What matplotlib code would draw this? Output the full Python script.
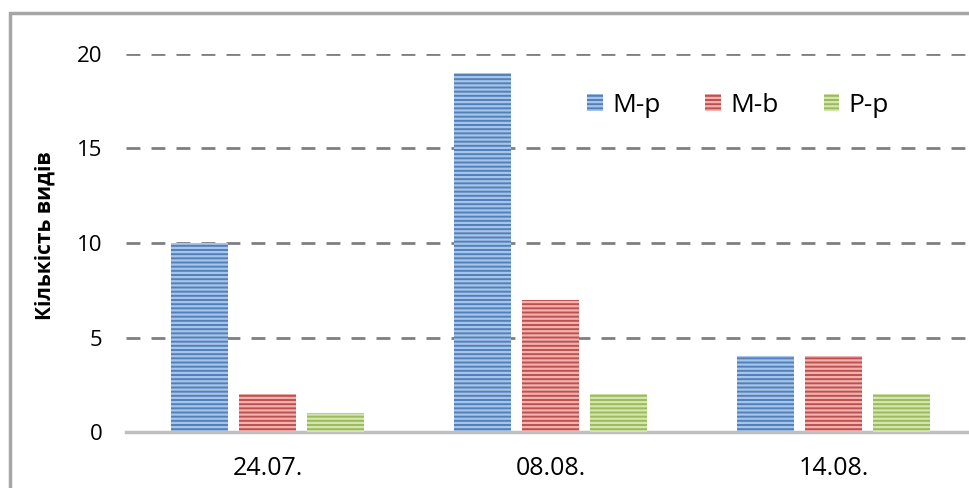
import matplotlib

matplotlib.use("Agg")

import matplotlib.pyplot as plt
import numpy as np
from matplotlib.patches import Rectangle

dates = ["24.07.", "08.08.", "14.08."]
series_names = ["M-p", "M-b", "P-p"]
m_p = [10, 19, 4]
m_b = [2, 7, 4]
p_p = [1, 2, 2]
y_ticks = [0, 5, 10, 15, 20]

plt.rcParams["font.family"] = ["Open Sans", "DejaVu Sans"]
plt.rcParams["hatch.linewidth"] = 1.6

fig = plt.figure(figsize=(9.69, 4.88), dpi=100)
fig.patches.append(
    Rectangle((10 / 969, -0.1), 1.2, 1 - 13 / 488 + 0.1, transform=fig.transFigure,
              fill=False, edgecolor="#a6a6a6", linewidth=2.5)
)

ax = fig.add_axes([126 / 969, 56 / 488, 849 / 969, 378 / 488])
x = np.arange(len(dates))
width = 0.2
gap = 0.24
styles = [
    (m_p, "#4f81bd", "#a9c4e6"),
    (m_b, "#c0504d", "#efb4b2"),
    (p_p, "#9bbb59", "#d3e5b0"),
]
for i, ((vals, face, stripe), name) in enumerate(zip(styles, series_names)):
    ax.bar(x + (i - 1) * gap, vals, width, color=face, edgecolor=stripe,
           hatch="----", linewidth=0, label=name, zorder=3)

ax.set_xlim(-0.5, 2.5)
ax.set_ylim(0, 20)
ax.set_yticks(y_ticks)
ax.set_xticks(x)
ax.set_xticklabels(dates, fontsize=18)
ax.tick_params(axis="y", labelsize=16, length=0, pad=17)
ax.tick_params(axis="x", length=0, pad=17)
ax.grid(axis="y", color="#7f7f7f", linestyle=(0, (5, 4)), linewidth=2, zorder=0)
for s in ["top", "right", "left"]:
    ax.spines[s].set_visible(False)
ax.spines["bottom"].set_color("#bfbfbf")
ax.spines["bottom"].set_linewidth(2.5)
ax.set_ylabel("Кількість видів", fontsize=15, fontweight="bold", va="center")
ax.yaxis.set_label_coords(-(126 - 45) / 849, 0.52)

ax.legend(loc="upper left", bbox_to_anchor=(0.515, 0.96), ncol=3, frameon=False,
          fontsize=19, handlelength=0.6, handleheight=0.6, columnspacing=1.7,
          handletextpad=0.35)

fig.savefig("out.png", dpi=100)
